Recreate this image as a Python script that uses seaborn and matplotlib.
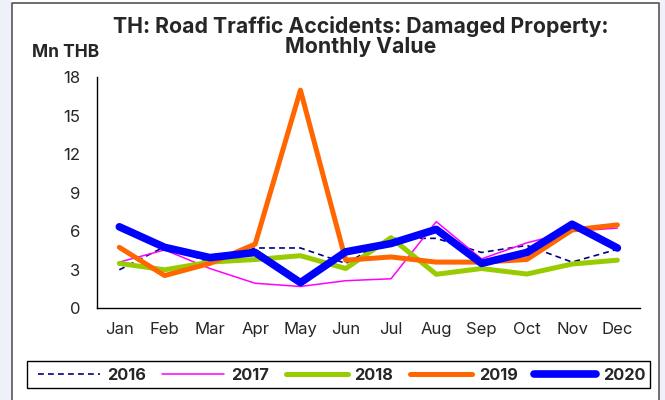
import numpy as np
import pandas as pd
import matplotlib
matplotlib.use("Agg")
import matplotlib.pyplot as plt
from matplotlib.lines import Line2D
from matplotlib.patches import Rectangle
from matplotlib.ticker import FixedLocator
import seaborn as sns

months = ["Jan", "Feb", "Mar", "Apr", "May", "Jun",
          "Jul", "Aug", "Sep", "Oct", "Nov", "Dec"]

v2016 = [3.0, 4.8, 3.6, 4.7, 4.7, 3.5, 5.45, 5.45, 4.35, 4.9, 3.6, 4.6]
v2017 = [3.6, 4.55, 3.1, 1.95, 1.7, 2.15, 2.3, 6.75, 3.85, 5.1, 6.0, 6.25]
v2018 = [3.5, 3.0, 3.6, 3.8, 4.1, 3.1, 5.5, 2.65, 3.1, 2.67, 3.45, 3.75]
v2019 = [4.75, 2.55, 3.5, 5.0, 17.0, 3.75, 4.0, 3.6, 3.6, 3.8, 6.1, 6.5]
v2020 = [6.35, 4.75, 3.95, 4.35, 2.0, 4.4, 5.05, 6.15, 3.5, 4.35, 6.55, 4.7]

years = ["2016", "2017", "2018", "2019", "2020"]
colors = ["#000080", "#FF00FF", "#99CC00", "#FF6600", "#0000FF"]
widths = [1.2, 1.1, 3.6, 3.6, 5.5]
styles = [(0, (3.5, 2.5)), "-", "-", "-", "-"]

df = pd.DataFrame({
    "month": months * 5,
    "year": np.repeat(years, 12),
    "value": v2016 + v2017 + v2018 + v2019 + v2020,
})

sns.set_style("white")
plt.rcParams["font.family"] = ["Inter", "Liberation Sans", "DejaVu Sans"]

W, H = 665, 400
fig = plt.figure(figsize=(6.65, 4), dpi=100)
fig.patch.set_facecolor("white")

# lavender side strips and grey frame like the source page
fig.patches.append(Rectangle((0, 0), 11 / W, 1, transform=fig.transFigure,
                             facecolor="#EEF0FA", edgecolor="none", zorder=0))
fig.patches.append(Rectangle((660 / W, 0), 5 / W, 1, transform=fig.transFigure,
                             facecolor="#EEF0FA", edgecolor="none", zorder=0))
fig.lines.append(Line2D([11.5 / W, 11.5 / W, 659 / W, 659 / W],
                        [0, 1 - 3 / H, 1 - 3 / H, 0], transform=fig.transFigure,
                        color="#555555", lw=1.2))

ax = fig.add_axes([96.7 / W, 1 - 308.3 / H, 543.3 / W, 231 / H])

for yr, c, lw, ls in zip(years, colors, widths, styles):
    sub = df[df["year"] == yr]
    sns.lineplot(data=sub, x="month", y="value", ax=ax, color=c, lw=lw,
                 linestyle=ls, sort=False, legend=False)

ax.set_xlim(-0.5, 11.5)
ax.set_ylim(0, 18)
ax.set_yticks(range(0, 19, 3))
ax.set_xlabel("")
ax.set_ylabel("")
ax.set_xticks(range(12))
ax.set_xticklabels(months)
ax.xaxis.set_minor_locator(FixedLocator(np.arange(-0.5, 12, 1)))
ax.tick_params(axis="x", which="major", length=0, pad=10, labelsize=12)
ax.tick_params(axis="x", which="minor", length=4, width=1, color="black", direction="out")
ax.tick_params(axis="y", length=4, width=1, color="black", direction="out", labelsize=12, pad=8)
sns.despine(ax=ax)
for s in ["left", "bottom"]:
    ax.spines[s].set_color("black")
    ax.spines[s].set_linewidth(1)

fig.text(361 / W, 1 - 33 / H, "TH: Road Traffic Accidents: Damaged Property:",
         ha="center", va="baseline", fontsize=15.3, fontweight="bold")
fig.text(361 / W, 1 - 53 / H, "Monthly Value",
         ha="center", va="baseline", fontsize=15.3, fontweight="bold")
fig.text(32 / W, 1 - 57 / H, "Mn THB", ha="left", va="baseline",
         fontsize=12.5, fontweight="bold")

# legend: frame drawn separately so it can hug the last label like the original
fig.patches.append(Rectangle((27 / W, 1 - 388 / H), 623 / W, 27 / H,
                             transform=fig.transFigure, facecolor="white",
                             edgecolor="black", lw=1, zorder=1))
handles = [Line2D([], [], color=c, lw=lw, linestyle=ls)
           for c, lw, ls in zip(colors, widths, styles)]
leg = fig.legend(handles, years, loc="center left",
                 bbox_to_anchor=(38 / W, 1 - 375 / H),
                 ncol=5, frameon=False, borderpad=0, borderaxespad=0,
                 handlelength=62 / 16.4, handletextpad=7 / 16.4, columnspacing=16.5 / 16.4,
                 prop={"weight": "bold", "size": 11.8})
leg.set_zorder(2)

fig.savefig("out.png", dpi=100)
